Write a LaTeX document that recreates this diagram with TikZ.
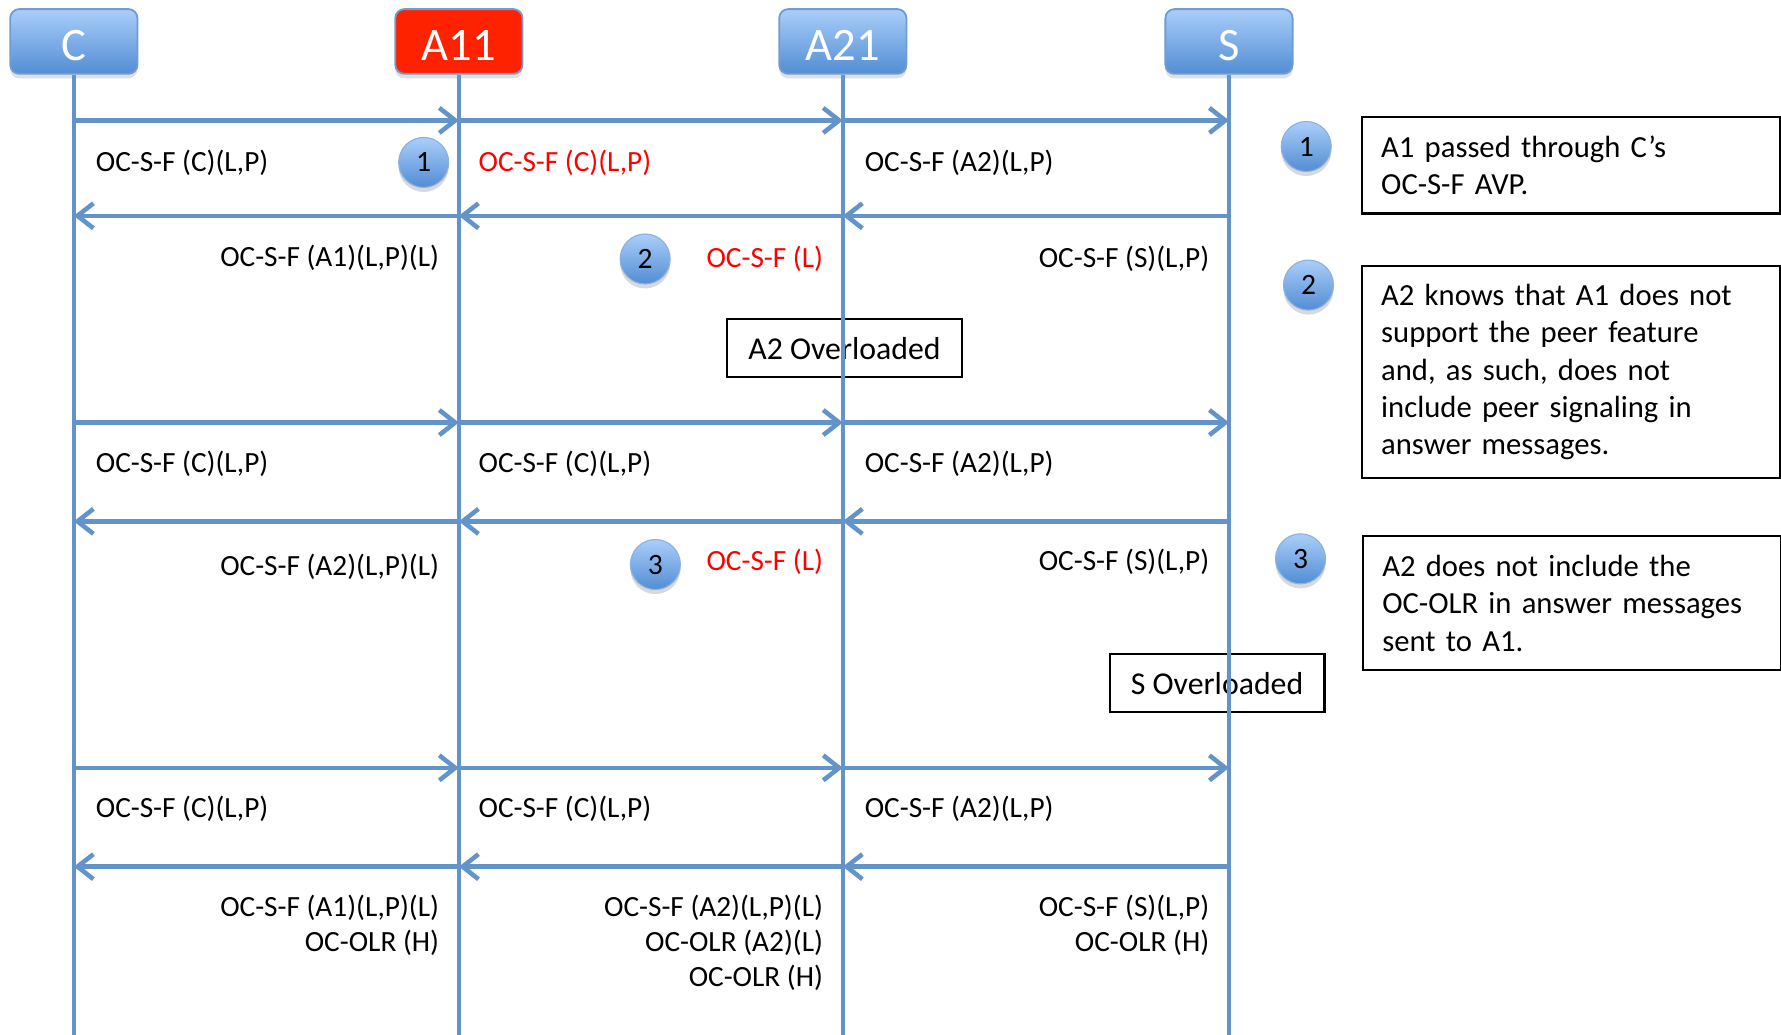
\documentclass[tikz,border=0pt]{standalone}
\usepackage{fontspec}
\setmainfont{Carlito}
\usetikzlibrary{arrows.meta,shadows}
\definecolor{lline}{RGB}{98,147,201}
\definecolor{hdtop}{RGB}{170,206,250}
\definecolor{hdbot}{RGB}{82,141,212}
\definecolor{hdborder}{RGB}{112,156,210}
\definecolor{redbox}{RGB}{255,34,0}
\definecolor{redtxt}{RGB}{255,0,0}
\definecolor{cbord}{RGB}{140,178,222}
\begin{document}
\begin{tikzpicture}[x=0.5pt,y=-0.5pt,
  hdr/.style={rounded corners=4pt, minimum width=56pt, minimum height=28.5pt, inner sep=0pt,
    text height=17pt, text depth=0pt,
    text=white, font=\fontsize{20.5}{24}\selectfont, draw=hdborder, line width=0.8pt,
    top color=hdtop, bottom color=hdbot,
    drop shadow={opacity=0.25, shadow xshift=0pt, shadow yshift=-2pt}},
  hdrred/.style={hdr, top color=redbox, bottom color=redbox},
  life/.style={draw=lline, line width=2pt},
  msg/.style={draw=lline, line width=2pt, -{Straight Barb[length=7pt,width=11pt,line width=2pt]}},
  lab/.style={font=\fontsize{12.9}{15.5}\selectfont, inner sep=0pt},
  redlab/.style={lab, text=redtxt},
  num/.style={circle, minimum size=22pt, inner sep=0pt, draw=cbord, line width=0.5pt,
    top color=hdtop, bottom color=hdbot, font=\fontsize{13}{15}\selectfont,
    drop shadow={opacity=0.3, shadow xshift=0pt, shadow yshift=-2pt}},
  ovl/.style={draw=black, line width=1pt, inner sep=0pt, minimum height=25.5pt,
    font=\fontsize{14}{16.5}\selectfont},
  note/.style={draw=black, line width=1pt, anchor=north west, inner xsep=8.5pt, inner ysep=0pt,
    text width=167pt, align=left, font=\fontsize{13.5}{16.5}\selectfont}
]
\useasboundingbox (0,0) rectangle (1568,911);

% header boxes
\node[hdr] (C) at (65,36.5) {C};
\node[hdrred] (A11) at (404,36.5) {A11};
\node[hdr] (A21) at (742,36.5) {A21};
\node[hdr] (S) at (1082,36.5) {S};

% named points on lifelines
\foreach \n/\x in {C/65,A11/404,A21/742,S/1082}{
  \foreach \r/\y in {1/106,2/190,3/372,4/459,5/676,6/763}{
    \coordinate (\n-\r) at (\x,\y);
  }
  \coordinate (\n-end) at (\x,911);
}

% overload boxes (behind lifelines)
\node[ovl, minimum width=103.5pt] (A2ovl) at (743.5,306.5) {A2 Overloaded};
\node[ovl, minimum width=94.5pt] (Sovl) at (1071.5,601.5) {S Overloaded};

% lifelines
\foreach \n in {C,A11,A21,S}{ \draw[life] (\n.south) -- (\n-end); }

% messages
\foreach \r in {1,3,5}{
  \draw[msg] (C-\r) -- (A11-\r);
  \draw[msg] (A11-\r) -- (A21-\r);
  \draw[msg] (A21-\r) -- (S-\r);
}
\foreach \r in {2,4,6}{
  \draw[msg] (S-\r) -- (A21-\r);
  \draw[msg] (A21-\r) -- (A11-\r);
  \draw[msg] (A11-\r) -- (C-\r);
}

% row 1 labels
\node[lab, anchor=west] (l1a) at (84,143) {OC-S-F (C)(L,P)};
\node[redlab, anchor=west] (l1b) at (421,143) {OC-S-F (C)(L,P)};
\node[lab, anchor=west] (l1c) at (761,143) {OC-S-F (A2)(L,P)};
\node[lab, anchor=east] (l2a) at (387,227) {OC-S-F (A1)(L,P)(L)};
\node[redlab, anchor=east] (l2b) at (725,228) {OC-S-F (L)};
\node[lab, anchor=east] (l2c) at (1065,228) {OC-S-F (S)(L,P)};

% row 2 labels
\node[lab, anchor=west] (l3a) at (84,408) {OC-S-F (C)(L,P)};
\node[lab, anchor=west] (l3b) at (421,408) {OC-S-F (C)(L,P)};
\node[lab, anchor=west] (l3c) at (761,408) {OC-S-F (A2)(L,P)};
\node[lab, anchor=east] (l4a) at (387,499) {OC-S-F (A2)(L,P)(L)};
\node[redlab, anchor=east] (l4b) at (725,495) {OC-S-F (L)};
\node[lab, anchor=east] (l4c) at (1065,495) {OC-S-F (S)(L,P)};

% row 3 labels
\node[lab, anchor=west] (l5a) at (84,712) {OC-S-F (C)(L,P)};
\node[lab, anchor=west] (l5b) at (421,712) {OC-S-F (C)(L,P)};
\node[lab, anchor=west] (l5c) at (761,712) {OC-S-F (A2)(L,P)};
\node[lab, anchor=east] (l6a1) at (387,799) {OC-S-F (A1)(L,P)(L)};
\node[lab, anchor=east] (l6a2) at (387,830) {OC-OLR (H)};
\node[lab, anchor=east] (l6b1) at (725,799) {OC-S-F (A2)(L,P)(L)};
\node[lab, anchor=east] (l6b2) at (725,830) {OC-OLR (A2)(L)};
\node[lab, anchor=east] (l6b3) at (725,861) {OC-OLR (H)};
\node[lab, anchor=east] (l6c1) at (1065,799) {OC-S-F (S)(L,P)};
\node[lab, anchor=east] (l6c2) at (1065,830) {OC-OLR (H)};

% numbered markers in the chart
\node[num] (n1) at (373,143) {1};
\node[num] (n2) at (568,228) {2};
\node[num] (n3) at (577,497) {3};

% side notes
\node[num] (m1) at (1150,129) {1};
\node[num] (m2) at (1152,251) {2};
\node[num] (m3) at (1145,492) {3};
\node[note, minimum height=42.5pt] (t1) at (1198,102) {A1 passed through C’s\\OC-S-F AVP.};
\node[note, minimum height=93.5pt] (t2) at (1198,233) {A2 knows that A1 does not\\support the peer feature\\and, as such, does not\\include peer signaling in\\answer messages.};
\node[note, minimum height=59pt] (t3) at (1199,471) {A2 does not include the\\OC-OLR in answer messages\\sent to A1.};
\end{tikzpicture}
\end{document}
